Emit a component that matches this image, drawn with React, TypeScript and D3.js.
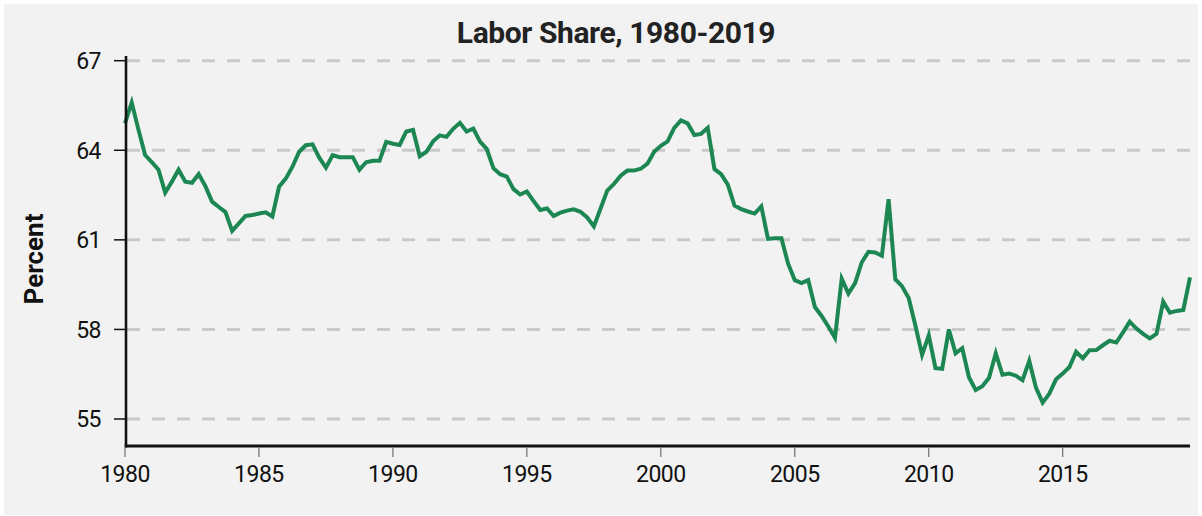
import React from "react";
import * as d3 from "d3";

// Labor share (percent), quarterly, 1980Q1–2019Q4
const share1980s = [
  64.9, 65.6, 64.7, 63.84, 63.6, 63.35, 62.58, 62.95, 63.35, 62.95,
  62.91, 63.2, 62.8, 62.28, 62.1, 61.93, 61.3, 61.55, 61.8, 61.83,
  61.88, 61.92, 61.78, 62.78, 63.05, 63.45, 63.95, 64.17, 64.2, 63.75,
  63.42, 63.84, 63.77, 63.77, 63.77, 63.35, 63.6, 63.65, 63.65, 64.28,
];
const share1990s = [
  64.22, 64.18, 64.63, 64.68, 63.8, 63.95, 64.3, 64.5, 64.45, 64.72,
  64.92, 64.63, 64.73, 64.29, 64.05, 63.4, 63.2, 63.12, 62.7, 62.52,
  62.62, 62.3, 62.0, 62.05, 61.8, 61.91, 61.98, 62.02, 61.94, 61.75,
  61.45, 62.05, 62.65, 62.87, 63.15, 63.32, 63.32, 63.38, 63.55, 63.95,
];
const share2000s = [
  64.15, 64.3, 64.75, 65.0, 64.9, 64.51, 64.55, 64.75, 63.37, 63.2,
  62.85, 62.15, 62.03, 61.95, 61.88, 62.12, 61.03, 61.05, 61.05, 60.2,
  59.65, 59.55, 59.65, 58.75, 58.45, 58.1, 57.72, 59.7, 59.2, 59.55,
  60.25, 60.6, 60.58, 60.47, 62.36, 59.68, 59.45, 59.05, 58.13, 57.15,
];
const share2010s = [
  57.8, 56.7, 56.68, 58.0, 57.2, 57.37, 56.4, 55.97, 56.1, 56.38,
  57.2, 56.48, 56.52, 56.45, 56.3, 56.95, 56.05, 55.55, 55.85, 56.33,
  56.52, 56.74, 57.25, 57.03, 57.3, 57.31, 57.47, 57.62, 57.56, 57.9,
  58.26, 58.03, 57.85, 57.7, 57.85, 58.93, 58.56, 58.62, 58.65, 59.74,
];

const firstYear = 1980;
const yTicks = [55, 58, 61, 64, 67];
const xTicks = [1980, 1985, 1990, 1995, 2000, 2005, 2010, 2015];
const title = "Labor Share, 1980-2019";
const yLabel = "Percent";

const values = [...share1980s, ...share1990s, ...share2000s, ...share2010s];
const data = values.map((v, i) => ({ t: firstYear + i / 4, v }));

const W = 1202;
const H = 516;
const FONT = "Roboto, 'Noto Sans', sans-serif";

export default function App() {
  const x = d3
    .scaleLinear()
    .domain([firstYear, firstYear + (values.length - 1) / 4])
    .range([125, 1190]);
  const y = d3.scaleLinear().domain([55, 67]).range([419, 60.7]);
  const line = d3
    .line<{ t: number; v: number }>()
    .x((d) => x(d.t))
    .y((d) => y(d.v));

  const axisX = 126;
  const axisY = 446;

  return (
    <svg
      width={W}
      height={H}
      style={{ position: "absolute", left: 0, top: 0 }}
      fontFamily={FONT}
    >
      <rect x={0} y={0} width={W} height={H} fill="#ffffff" />
      <rect x={4} y={4} width={1194} height={511} fill="#f2f2f2" />

      <text
        x={616}
        y={43}
        textAnchor="middle"
        fontSize={30}
        fontWeight={700}
        letterSpacing={-0.4}
        fill="#222"
      >
        {title}
      </text>

      {yTicks.map((t) => (
        <line
          key={"g" + t}
          x1={127}
          x2={1191}
          y1={y(t)}
          y2={y(t)}
          stroke="#c9c9c9"
          strokeWidth={3}
          strokeDasharray="13,12"
        />
      ))}

      <path
        d={line(data) || ""}
        fill="none"
        stroke="#1c8752"
        strokeWidth={4}
        strokeLinejoin="miter"
      />

      {/* y axis */}
      <line x1={axisX} x2={axisX} y1={56} y2={axisY + 1.5} stroke="#111" strokeWidth={2.6} />
      {yTicks.map((t) => (
        <g key={"y" + t}>
          <line x1={114} x2={axisX} y1={y(t)} y2={y(t)} stroke="#111" strokeWidth={1.5} />
          <text
            x={101}
            y={y(t)}
            dy="0.36em"
            textAnchor="end"
            fontSize={23}
            letterSpacing={-0.5}
            fill="#111"
          >
            {t}
          </text>
        </g>
      ))}

      {/* x axis */}
      <line x1={axisX - 1.3} x2={1190} y1={axisY} y2={axisY} stroke="#111" strokeWidth={3} />
      {xTicks.map((t) => (
        <g key={"x" + t}>
          <line x1={x(t)} x2={x(t)} y1={axisY + 1.5} y2={457} stroke="#555" strokeWidth={1} />
          <text
            x={x(t)}
            y={482}
            textAnchor="middle"
            fontSize={23}
            letterSpacing={-0.5}
            fill="#111"
          >
            {t}
          </text>
        </g>
      ))}

      <text
        transform={`translate(43,259) rotate(-90)`}
        textAnchor="middle"
        fontSize={26}
        fontWeight={700}
        fill="#111"
      >
        {yLabel}
      </text>
    </svg>
  );
}
